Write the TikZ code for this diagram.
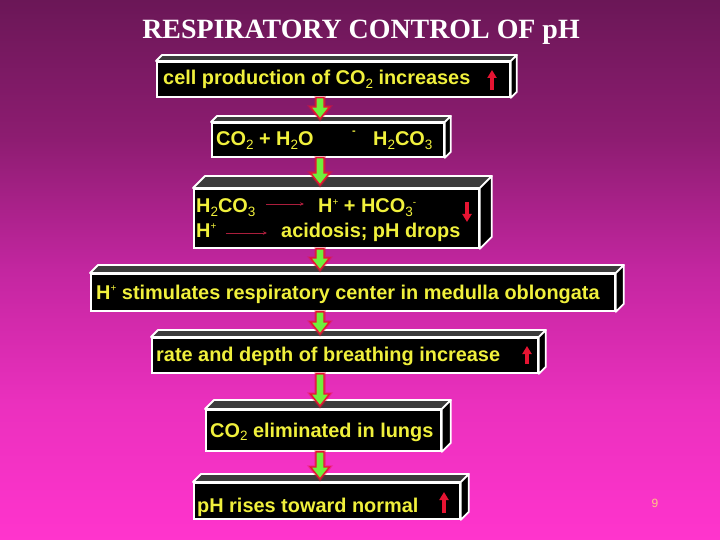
\documentclass[tikz,border=0pt]{standalone}
\usepackage{fontspec}
\setmainfont{Liberation Sans}
\newfontfamily\titlefont{Liberation Serif}
\usetikzlibrary{calc,arrows.meta}
\definecolor{bgtop}{RGB}{107,23,87}
\definecolor{bgq}{RGB}{140,28,112}
\definecolor{bgmid}{RGB}{195,38,160}
\definecolor{bgl}{RGB}{235,48,190}
\definecolor{bgbot}{RGB}{255,52,205}
\definecolor{txtyellow}{RGB}{240,240,60}
\definecolor{upred}{RGB}{230,20,50}
\definecolor{arrgreen}{RGB}{110,240,60}
\definecolor{facegray}{RGB}{60,60,60}
\definecolor{darkred}{RGB}{170,30,60}
\definecolor{pagenum}{RGB}{255,200,130}
\pgfdeclareverticalshading{bgshade}{100bp}{color(0bp)=(bgbot); color(25bp)=(bgbot); color(37.5bp)=(bgl); color(50bp)=(bgmid); color(62.5bp)=(bgq); color(75bp)=(bgtop); color(100bp)=(bgtop)}
\newcommand\lsub[1]{\raisebox{-0.2em}{\fontsize{13.5}{14}\selectfont\mdseries #1}}
\newcommand\lsup[1]{\raisebox{0.4em}{\fontsize{10}{10}\selectfont\mdseries #1}}
\tikzset{
  front/.style={draw=white, line width=1.8pt, fill=black, rectangle, inner sep=0pt, anchor=north west},
  sideface/.style={draw=white, line width=1.8pt, fill=black, line join=round},
  topface/.style={draw=white, line width=1.8pt, fill=facegray, line join=round},
  btxt/.style={text=txtyellow, font=\fontsize{19.9}{22}\selectfont\bfseries, inner sep=0pt, anchor=base west},
  titletxt/.style={text=white, font=\fontsize{27.9}{30}\selectfont\titlefont\bfseries, inner sep=0pt, anchor=base},
  garrow/.style={fill=arrgreen, draw=upred, line width=1.4pt, line join=miter,
    preaction={draw=upred, line width=3.5pt, opacity=0.35}},
  redup/.style={draw=upred, line width=3.5pt, -{Triangle[width=9pt,length=8pt]}},
  thinarr/.style={draw=darkred, line width=0.9pt, -{Stealth[width=3.5pt,length=4pt]}},
}
\newcommand\cubefaces[2]{%
  \draw[topface] (#1.north west) -- ++(#2,-#2) -- ($(#1.north east)+(#2,-#2)$) -- (#1.north east) -- cycle;
  \draw[sideface] (#1.north east) -- ($(#1.north east)+(#2,-#2)$) -- ($(#1.south east)+(#2,-#2)$) -- (#1.south east) -- cycle;}
\newcommand\greenarrow[2]{%
  \draw[garrow] let \p1=(ax |- #1.south), \p2=($(ax |- #2.north)+(0,-3)$) in
    ({\x1-4pt},\y1) -- ({\x1+4pt},\y1) -- ({\x1+4pt},{\y2+12pt}) -- ({\x1+9.5pt},{\y2+12pt}) --
    (\x1,\y2) -- ({\x1-9.5pt},{\y2+12pt}) -- ({\x1-4pt},{\y2+12pt}) -- cycle;}
\begin{document}
\begin{tikzpicture}[x=1pt,y=-1pt]
\useasboundingbox (0,0) rectangle (720,540);
\shade[shading=bgshade] (0,0) rectangle (720,540);
\node[titletxt] (title) at (361,39) {RESPIRATORY CONTROL OF pH};
\coordinate (ax) at (320,0);

% box 1
\node[front, minimum width=353pt, minimum height=35pt] (b1) at (156,61) {};
\cubefaces{b1}{6}
\node[btxt] (t1) at (163,85) {cell production of CO\lsub{2} increases};
\coordinate (r1a) at (492,90); \coordinate (r1b) at (492,70);
\draw[redup] (r1a) -- (r1b);

% box 2
\node[front, minimum width=232pt, minimum height=34pt] (b2) at (211,122) {};
\cubefaces{b2}{6}
\node[btxt] (t2a) at (216,146) {CO\lsub{2} + H\lsub{2}O};
\node[text=txtyellow, font=\fontsize{11}{12}\selectfont\bfseries, inner sep=0pt] (t2b) at (354,133) {-};
\node[btxt] (t2c) at (373,146) {H\lsub{2}CO\lsub{3}};

% box 3
\node[front, minimum width=285pt, minimum height=59pt] (b3) at (193,188) {};
\cubefaces{b3}{12}
\node[btxt] (t3a) at (196,213) {H\lsub{2}CO\lsub{3}};
\node[btxt] (t3b) at (318,213) {H\lsup{+} + HCO\lsub{3}\lsup{-}};
\node[btxt] (t3c) at (196,237) {H\lsup{+}};
\node[btxt] (t3d) at (281,237) {acidosis; pH drops};
\coordinate (a1s) at (266,204); \coordinate (a1e) at (304,204);
\coordinate (a2s) at (226,233); \coordinate (a2e) at (267,233);
\draw[thinarr] (a1s) -- (a1e);
\draw[thinarr] (a2s) -- (a2e);
\coordinate (r3a) at (467,202); \coordinate (r3b) at (467,222);
\draw[redup] (r3a) -- (r3b);

% box 4
\node[front, minimum width=524pt, minimum height=37pt] (b4) at (90,273) {};
\cubefaces{b4}{8}
\node[btxt] (t4) at (96,299) {H\lsup{+} stimulates respiratory center in medulla oblongata};

% box 5
\node[front, minimum width=386pt, minimum height=35pt] (b5) at (151,337) {};
\cubefaces{b5}{7}
\node[btxt] (t5) at (156,361) {rate and depth of breathing increase};
\coordinate (r5a) at (527,364); \coordinate (r5b) at (527,346);
\draw[redup] (r5a) -- (r5b);

% box 6
\node[front, minimum width=235pt, minimum height=41pt] (b6) at (205,409) {};
\cubefaces{b6}{9}
\node[btxt] (t6) at (210,437) {CO\lsub{2} eliminated in lungs};

% box 7
\node[front, minimum width=266pt, minimum height=36pt] (b7) at (193,482) {};
\cubefaces{b7}{8}
\node[btxt] (t7) at (197,512) {pH rises toward normal};
\coordinate (r7a) at (444,513); \coordinate (r7b) at (444,492);
\draw[redup] (r7a) -- (r7b);

% green connectors
\greenarrow{b1}{b2}
\greenarrow{b2}{b3}
\greenarrow{b3}{b4}
\greenarrow{b4}{b5}
\greenarrow{b5}{b6}
\greenarrow{b6}{b7}

\node[text=pagenum, font=\fontsize{12}{14}\selectfont, inner sep=0pt] (pg) at (655,503) {9};
\end{tikzpicture}
\end{document}
